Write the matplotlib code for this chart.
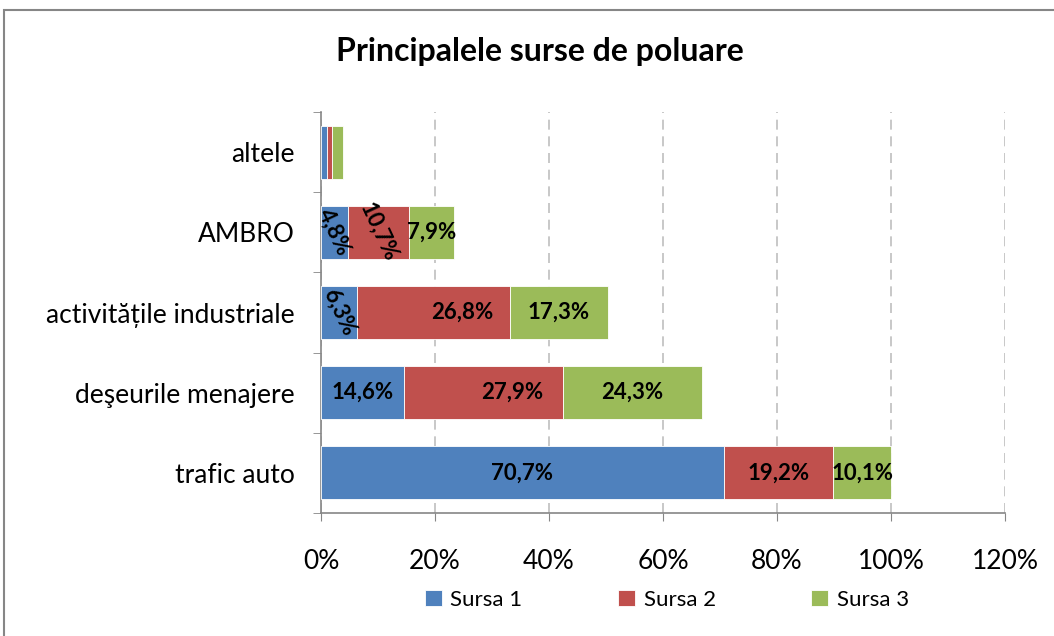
import matplotlib
matplotlib.use("Agg")
import matplotlib.pyplot as plt
import numpy as np
from matplotlib.patches import Rectangle

categories = ["altele", "AMBRO", "activitățile industriale", "deşeurile menajere", "trafic auto"]
series_names = ["Sursa 1", "Sursa 2", "Sursa 3"]
sursa1 = [1.0, 4.8, 6.3, 14.6, 70.7]
sursa2 = [1.0, 10.7, 26.8, 27.9, 19.2]
sursa3 = [1.8, 7.9, 17.3, 24.3, 10.1]
label_texts = [
    [None, "4,8%", "6,3%", "14,6%", "70,7%"],
    [None, "10,7%", "26,8%", "27,9%", "19,2%"],
    [None, "7,9%", "17,3%", "24,3%", "10,1%"],
]
xticks = [0, 20, 40, 60, 80, 100, 120]
xtick_labels = ["0%", "20%", "40%", "60%", "80%", "100%", "120%"]

colors = ["#4F81BD", "#C0504D", "#9BBB59"]
rot = [[0, -65, -65, 0, 0], [0, -65, 0, 0, 0], [0, 0, 0, 0, 0]]
xoff = [[0, 0, 0, 0, 0], [0, 0, 5, 5, 0], [0, 0, 0, 0, 0]]

plt.rcParams['font.family'] = ['Lato', 'DejaVu Sans']

fig = plt.figure(figsize=(10.54, 6.36), dpi=100)
ax = fig.add_axes([321/1054, 1-513/636, (1005-321)/1054, (513-112)/636])

y = np.arange(len(categories))
left = np.zeros(len(categories))
handles = []
for i, vals in enumerate([sursa1, sursa2, sursa3]):
    b = ax.barh(y, vals, left=left, height=0.66, color=colors[i], label=series_names[i],
                edgecolor='white', linewidth=0.6, zorder=3)
    handles.append(b)
    for j, v in enumerate(vals):
        t = label_texts[i][j]
        if t:
            ax.text(left[j] + v/2 + xoff[i][j], y[j], t, ha='center', va='center',
                    rotation=rot[i][j], fontsize=16, fontweight='bold', color='black', zorder=4)
    left = left + np.array(vals)

ax.set_xlim(0, 120)
ax.set_ylim(-0.5, len(categories) - 0.5)
ax.invert_yaxis()
ax.set_xticks(xticks)
ax.set_xticklabels(xtick_labels, fontsize=19)
ax.set_yticks(y)
ax.set_yticklabels(categories, fontsize=19)
ax.tick_params(axis='y', length=0, pad=19)
ax.set_yticks(np.arange(-0.5, len(categories), 1), minor=True)
ax.tick_params(axis='y', which='minor', length=6, color='#868686', direction='out')
ax.tick_params(axis='x', length=6, color='#868686', direction='out', pad=20)

ax.grid(axis='x', linestyle=(0, (6, 4)), color='#BFBFBF', linewidth=1.2, zorder=0)
for s in ['top', 'right']:
    ax.spines[s].set_visible(False)
for s in ['left', 'bottom']:
    ax.spines[s].set_color('#868686')
    ax.spines[s].set_linewidth(1.2)

fig.text(540/1054, 1-52/636, "Principalele surse de poluare", ha='center', va='center',
         fontsize=23, fontweight='bold')

fig.legend(handles=handles, labels=series_names, loc='center', bbox_to_anchor=(667/1054, 1-600/636),
           ncol=3, frameon=False, fontsize=16, handlelength=0.75, handleheight=0.75,
           columnspacing=4.3, handletextpad=0.4)

fig.patches.append(Rectangle((4/1054, -0.1), 1.2, 1.1 - 10/636, transform=fig.transFigure,
                             fill=False, edgecolor='#868686', linewidth=1.5))

fig.savefig("out.png", dpi=100)
